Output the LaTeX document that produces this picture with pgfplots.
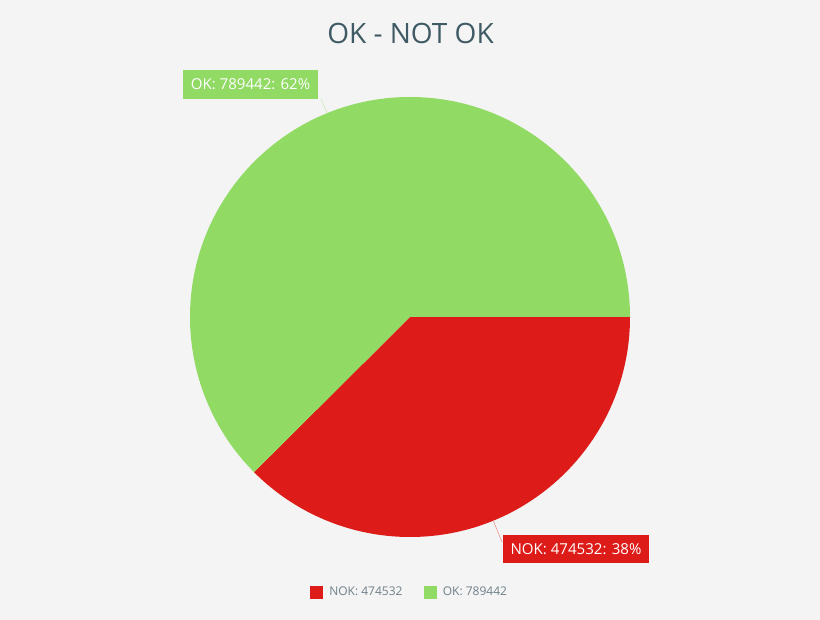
\documentclass[border=0pt]{standalone}
\usepackage{pgfplots}
\pgfplotsset{compat=1.18}
\usepackage{pgfplotstable}
\usepackage{xfp}
\usepackage{fontspec}
\setmainfont{Open Sans}

\definecolor{bgcol}{HTML}{F4F4F4}
\definecolor{okgreen}{HTML}{91DA64}
\definecolor{nokred}{HTML}{DD1B18}
\definecolor{titlecol}{HTML}{3F5A64}
\definecolor{legtext}{HTML}{6E8088}
\definecolor{okline}{HTML}{C8EBB2}
\definecolor{nokline}{HTML}{EE8C8A}

% slice values
\pgfplotstableread{
label value
NOK 474532
OK 789442
}\piedata
\pgfplotstablegetelem{0}{value}\of\piedata \let\vnok\pgfplotsretval
\pgfplotstablegetelem{1}{value}\of\piedata \let\vok\pgfplotsretval
\edef\anok{\fpeval{360*\vnok/(\vnok+\vok)}}
\edef\pnok{\fpeval{round(100*\vnok/(\vnok+\vok))}}
\edef\pok{\fpeval{round(100*\vok/(\vnok+\vok))}}

\begin{document}
\begin{tikzpicture}
\begin{axis}[
  width=615pt, height=465pt, scale only axis,
  xmin=0, xmax=820, ymin=0, ymax=620,
  hide axis, clip=false,
  legend columns=2,
  legend style={at={(axis cs:410,28)}, anchor=center, draw=none, fill=none,
    font=\fontsize{9}{11}\selectfont, text=legtext,
    /tikz/every even column/.append style={column sep=14pt}},
  legend cell align=left,
]
\fill[bgcol] (rel axis cs:0,0) rectangle (rel axis cs:1,1);
% slices
\fill[nokred] (axis cs:410,303) -- (axis cs:630,303)
  arc[start angle=0, end angle=-\anok, radius=165pt] -- cycle;
\fill[okgreen] (axis cs:410,303) -- (axis cs:630,303)
  arc[start angle=0, end angle={360-\anok}, radius=165pt] -- cycle;
% leader lines
\draw[okline] (axis cs:327,507) -- (axis cs:321,521);
\draw[nokline] (axis cs:493,100) -- (axis cs:502,78);
% labels
\node[fill=okgreen, text=white, font=\fontsize{11.3}{13}\selectfont,
  minimum height=21.5pt, inner xsep=5.5pt] at (axis cs:250.5,535.5) {OK: \vok: \pok\%};
\node[fill=nokred, text=white, font=\fontsize{11.3}{13}\selectfont,
  minimum height=21pt, inner xsep=5.5pt] at (axis cs:576,71) {NOK: \vnok: \pnok\%};
% title
\node[text=titlecol, font=\fontsize{21}{25}\selectfont] at (axis cs:410.5,587) {OK - NOT OK};
\addlegendimage{legend image code/.code={\fill[nokred] (0pt,-4.5pt) rectangle (9pt,4.5pt); \path[draw=none] (0pt,0pt) -- (12pt,0pt);}}
\addlegendentry{NOK: \vnok}
\addlegendimage{legend image code/.code={\fill[okgreen] (0pt,-4.5pt) rectangle (9pt,4.5pt); \path[draw=none] (0pt,0pt) -- (12pt,0pt);}}
\addlegendentry{OK: \vok}
\end{axis}
\pgfresetboundingbox
\useasboundingbox (current axis.south west) rectangle (current axis.north east);
\end{tikzpicture}
\end{document}
